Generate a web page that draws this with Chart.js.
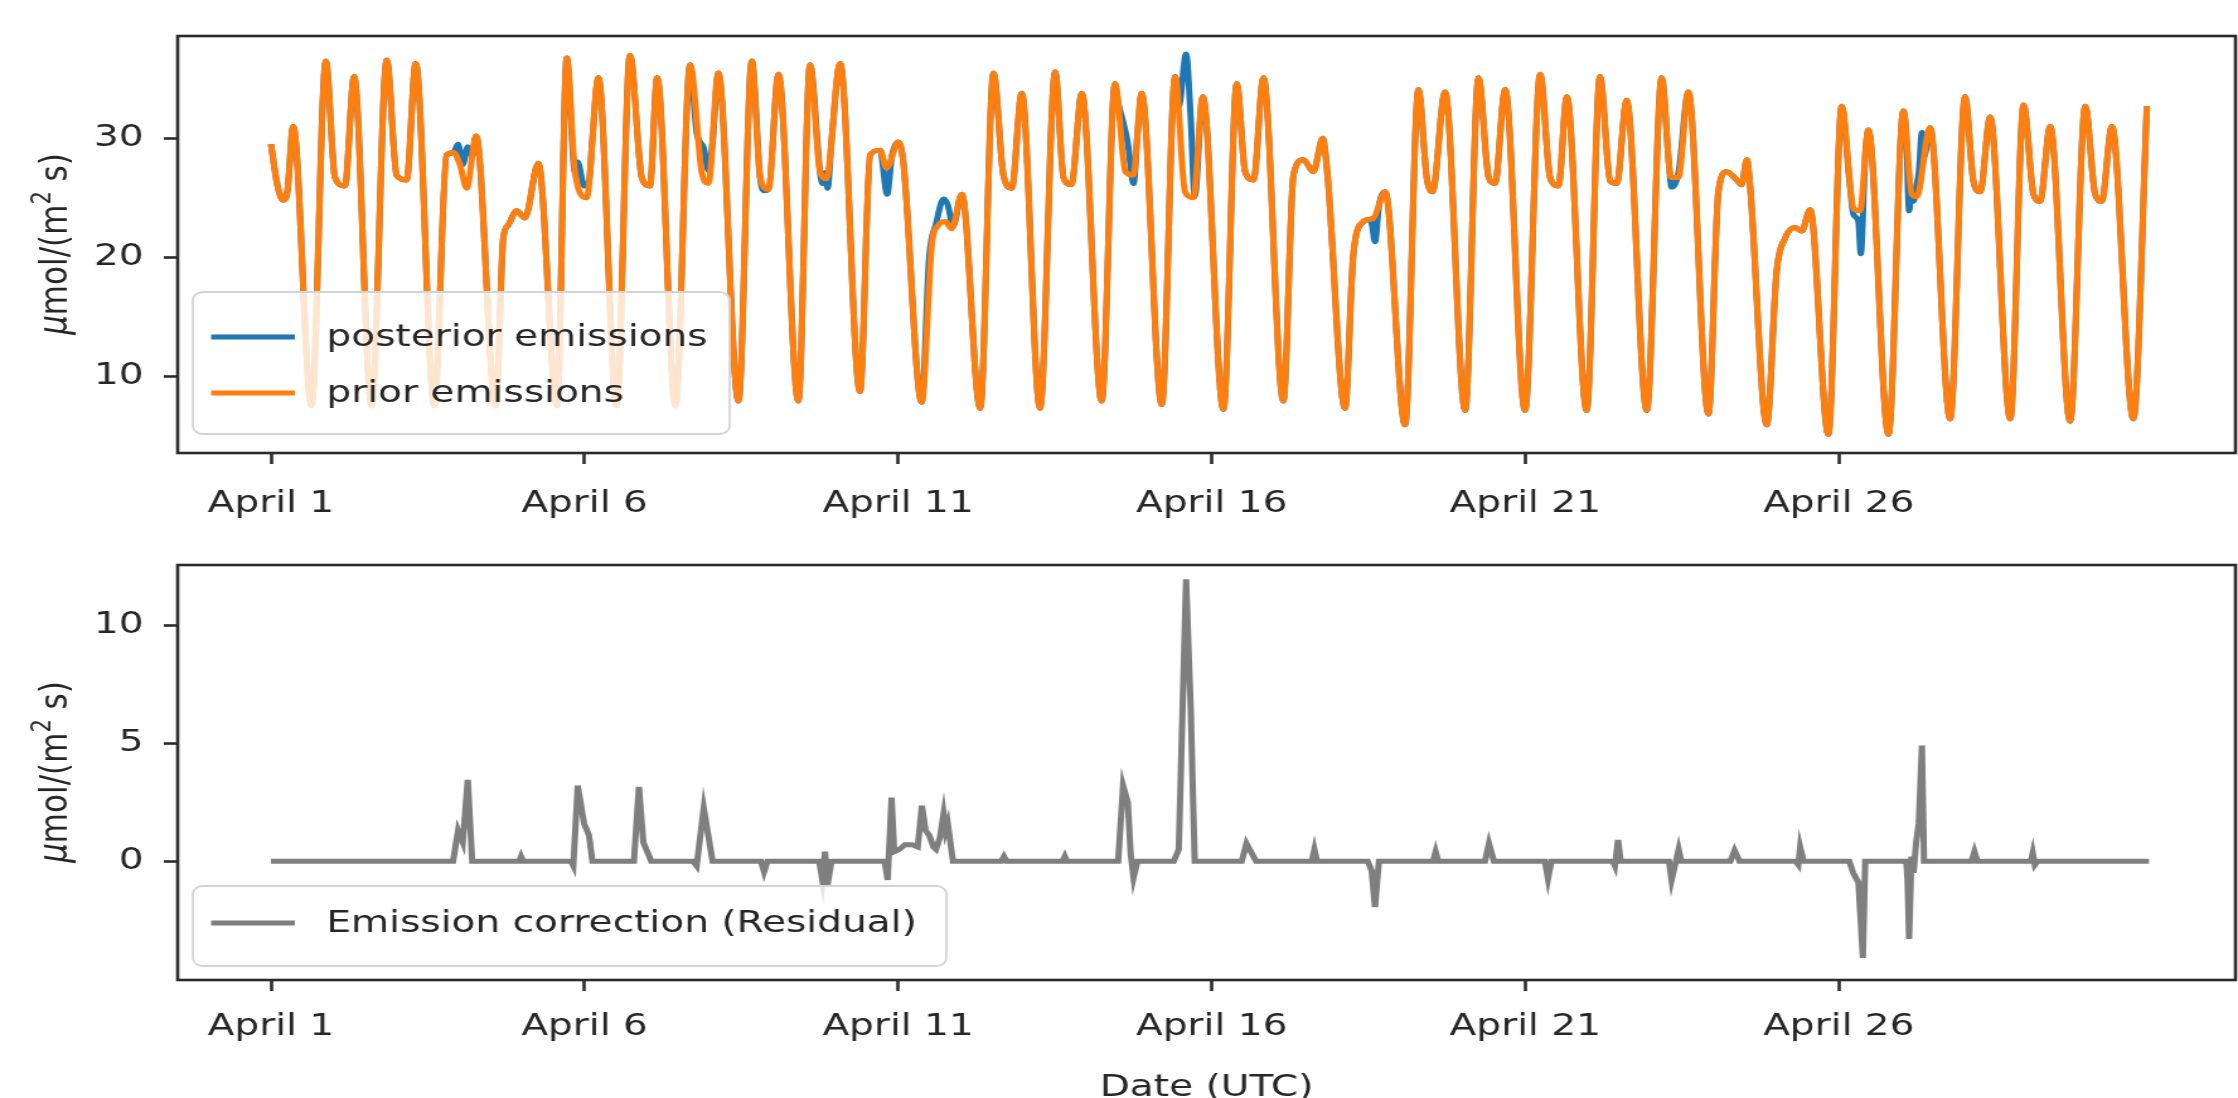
<!DOCTYPE html>
<html>
<head>
<meta charset="utf-8">
<script src="https://cdn.jsdelivr.net/npm/chart.js@4/dist/chart.umd.min.js"></script>
<style>
  html, body { margin: 0; padding: 0; background: #ffffff; width: 2238px; height: 1098px; overflow: hidden; }
  canvas { position: absolute; left: 0; }
</style>
</head>
<body>
<!-- each canvas is drawn 1776 px wide and shown 2238 px wide, like the reference's horizontally stretched figure -->
<canvas id="topChart" width="1776" height="540" style="top:0px;width:2238px;height:540px"></canvas>
<canvas id="bottomChart" width="1776" height="570" style="top:540px;width:2238px;height:570px"></canvas>
<script>
// ---------------- data (hours since April 1, 00 UTC) ----------------
const xTickHours = [0, 120, 240, 360, 480, 600];
const xTickLabels = ['April 1', 'April 6', 'April 11', 'April 16', 'April 21', 'April 26'];
const topYTicks = [10, 20, 30];
const bottomYTicks = [0, 5, 10];

const priorHours = [
  0, 2.5, 4.7, 6.3, 8.5, 15.5,
  21.0, 24.5, 28.3, 31.8, 38.5,
  44.3, 48.1, 51.9, 55.4, 62.5,
  67.2, 69.8, 72.3, 74.9, 78.5, 86.0,
  88.9, 90.8, 94.0, 97.2, 102.3, 109.5,
  113.2, 116.3, 120.8, 125.3, 132.3,
  137.4, 141.9, 145.0, 147.8, 154.8,
  160.4, 164.8, 167.4, 171.2, 178.9,
  184.0, 187.2, 190.4, 194.2, 201.8,
  206.3, 210.1, 212.5, 217.8, 225.4,
  229.3, 233.1, 235.6, 240.1, 242.0, 249.0,
  252.9, 255.4, 258.0, 260.5, 264.4, 271.4,
  276.5, 280.3, 283.5, 287.3, 294.3,
  300.1, 303.3, 306.3, 310.3, 317.9,
  323.0, 327.0, 330.0, 333.2, 340.9,
  346.0, 349.8, 353.0, 356.6, 364.5,
  369.6, 372.8, 376.0, 379.8, 387.4,
  391.3, 395.1, 398.9, 402.5, 404.3, 411.0,
  414.2, 418.1, 421.9, 426.4, 434.0,
  439.1, 442.3, 444.5, 449.3, 457.0,
  462.1, 466.0, 468.4, 472.3, 479.9,
  485.7, 489.5, 492.7, 495.9, 503.5,
  508.6, 512.5, 515.0, 518.8, 526.5,
  532.2, 535.8, 538.6, 542.4, 550.1,
  553.9, 557.1, 560.9, 562.8, 564.8, 566.0, 572.4,
  576.2, 579.4, 583.3, 585.8, 589.0, 596.0,
  601.1, 605.6, 608.1, 611.3, 619.0,
  624.7, 627.9, 629.8, 634.9, 642.6,
  648.3, 651.5, 654.1, 657.9, 665.6,
  670.7, 674.5, 677.0, 680.9, 688.5,
  694.3, 698.1, 700.6, 704.5, 712.7,
  717.9
];
const priorValues = [
  29.5, 26.0, 24.8, 25.6, 31.0, 7.5,
  36.5, 26.7, 26.0, 35.2, 7.5,
  36.6, 26.9, 26.5, 36.3, 7.5,
  28.6, 28.8, 27.8, 25.8, 30.2, 7.5,
  21.6, 22.7, 23.9, 23.3, 27.9, 7.5,
  36.75, 27.2, 25.0, 35.1, 7.5,
  37.0, 26.7, 26.0, 35.1, 7.5,
  36.2, 27.2, 26.2, 35.5, 7.9,
  36.5, 26.7, 25.7, 35.4, 7.9,
  36.2, 27.2, 26.6, 36.3, 8.7,
  28.6, 29.0, 27.5, 29.7, 28.0, 7.8,
  21.1, 22.7, 23.0, 22.4, 25.3, 7.3,
  35.5, 26.9, 25.8, 33.8, 7.3,
  35.6, 26.7, 26.1, 33.8, 7.9,
  34.6, 27.2, 26.9, 33.8, 7.6,
  35.2, 25.5, 25.0, 33.5, 7.2,
  34.6, 27.2, 26.5, 35.1, 7.9,
  26.9, 28.2, 27.2, 30.0, 27.0, 7.3,
  20.2, 23.0, 23.3, 25.5, 5.9,
  34.1, 26.7, 25.5, 33.9, 7.1,
  35.1, 26.7, 26.2, 34.1, 7.1,
  35.4, 26.7, 26.0, 33.5, 7.1,
  35.2, 26.4, 26.2, 33.2, 7.1,
  35.1, 26.7, 26.7, 33.9, 6.8,
  25.5, 27.2, 26.5, 26.1, 28.2, 26.1, 5.9,
  18.8, 21.6, 22.5, 22.2, 24.0, 5.1,
  32.7, 24.1, 23.9, 30.7, 5.1,
  32.3, 25.3, 25.1, 30.9, 6.4,
  33.5, 26.4, 25.5, 31.8, 6.4,
  32.8, 25.3, 24.7, 31.0, 6.2,
  32.7, 25.3, 24.7, 31.0, 6.4,
  32.7
];

// posterior: identical to prior except inside these windows, where it takes the values below
const posteriorWindowStart = [69.8, 116.3, 160.4, 187.2, 210.1, 233.1, 249.0, 323.0, 346.0, 418.1, 532.2, 601.1, 624.7];
const posteriorWindowEnd   = [78.5, 125.3, 171.2, 190.4, 217.8, 240.1, 264.4, 333.2, 356.6, 426.4, 542.4, 611.3, 634.9];
const posteriorHours = [
  71.6, 73.4, 75.3, 77.0,
  117.4, 119.8, 121.7, 123.0,
  162.9, 165.6, 167.4, 169.0,
  188.7,
  211.0, 212.0, 213.0, 214.5,
  235.8, 237.6,
  251.9, 254.5, 257.4, 259.0, 261.0,
  324.2, 326.1, 327.9, 330.1, 331.6,
  347.4, 350.2, 352.0, 353.5,
  419.7, 421.2, 422.5, 424.0,
  535.0, 536.0, 538.7,
  604.0, 605.6, 607.5, 608.4, 610.1,
  625.8, 626.9, 627.8, 628.6, 629.6, 630.6, 631.8, 632.6
];
const posteriorValues = [
  29.5, 27.8, 29.3, 28.5,
  28.0, 26.0, 26.4, 29.9,
  30.5, 29.2, 27.3, 29.7,
  25.6,
  26.2, 27.1, 25.8, 29.7,
  25.3, 28.5,
  20.0, 22.8, 24.9, 24.4, 22.6,
  33.0, 31.4, 29.6, 26.2, 30.35,
  32.7, 37.1, 31.6, 25.1,
  23.15, 22.85, 21.3, 24.3,
  27.8, 25.9, 27.2,
  26.6, 23.6, 23.0, 20.3, 28.5,
  30.3, 23.9, 25.5, 24.7, 25.9, 27.1, 30.5, 28.4
];

const residualHours = [
  0,
  69.7, 71.6, 73.4, 75.3, 77.0,
  95.0, 95.7, 96.5,
  114.8, 115.7, 117.4, 119.8, 121.7, 123.0,
  138.9, 140.8, 142.5, 144.4, 145.5,
  161.5, 162.9, 165.6, 169.0,
  187.5, 188.7, 190.0,
  209.8, 211.0, 212.0, 213.0, 214.5,
  234.8, 236.0, 237.5, 238.5, 240.5, 242.6, 245.3, 247.5, 249.1, 250.5, 251.9, 253.5, 254.5, 256.0, 257.4, 258.2, 259.0, 261.0,
  279.5, 280.5, 281.5,
  303.0, 303.8, 304.6,
  324.2, 326.1, 327.9, 329.0, 330.1, 331.6,
  345.5, 347.4, 350.2, 352.0, 353.5,
  371.5, 373.3, 377.0,
  398.3, 399.3, 400.3,
  419.7, 421.2, 422.5, 424.0,
  444.7, 445.7, 446.7,
  464.6, 466.1, 468.0,
  487.5, 488.7, 490.0,
  513.5, 514.3, 515.5, 516.5,
  535.0, 536.0, 538.7, 539.7,
  558.5, 560.1, 562.0,
  583.5, 584.5, 585.2, 586.5,
  604.0, 605.5, 607.5, 609.2, 610.1,
  625.8, 626.3, 626.9, 627.8, 628.6, 629.6, 630.6, 631.8, 632.6,
  650.8, 651.9, 653.0,
  673.5, 674.2, 675.0, 676.0,
  718.7
];
const residualValues = [
  0,
  0, 1.3, 0.8, 3.45, 0,
  0, 0.2, 0,
  0, -0.2, 3.2, 1.6, 1.1, 0,
  0, 3.15, 0.8, 0.3, 0,
  0, -0.2, 2.25, 0,
  0, -0.45, 0,
  0, -0.8, 0.4, -1.0, 0,
  0, -0.8, 2.7, 0.4, 0.5, 0.7, 0.7, 0.6, 2.35, 1.3, 1.1, 0.6, 0.5, 1.0, 2.0, 1.3, 1.6, 0,
  0, 0.2, 0,
  0, 0.2, 0,
  0, 3.2, 2.5, 0.3, -0.7, 0,
  0, 0.5, 11.95, 6.4, 0,
  0, 0.75, 0,
  0, 0.5, 0,
  0, -0.4, -1.95, 0,
  0, 0.4, 0,
  0, 0.75, 0,
  0, -0.75, 0,
  0, -0.2, 0.9, 0,
  0, -0.8, 0.5, 0,
  0, 0.45, 0,
  0, -0.15, 0.6, 0,
  0, -0.5, -0.9, -4.1, 0,
  0, -0.8, -3.3, 0.2, -0.5, 0.8, 1.6, 4.9, 0,
  0, 0.4, 0,
  0, 0.35, -0.15, 0,
  0
];

// ---------------- build tables ----------------
const priorData = priorHours.map((h, i) => ({ x: h, y: priorValues[i] }));
const insideWindow = h => posteriorWindowStart.some((s, k) => h > s && h < posteriorWindowEnd[k]);
const posteriorData = priorData.filter(p => !insideWindow(p.x))
  .concat(posteriorHours.map((h, i) => ({ x: h, y: posteriorValues[i] })))
  .sort((a, b) => a.x - b.x);
const residualData = residualHours.map((h, i) => ({ x: h, y: residualValues[i] }));

// ---------------- styling ----------------
const FONT = 'DejaVu Sans';
const TXT = '#262626';
const SPINE = '#2b2b2b';
const LW = 5;

function roundRectPath(ctx, x, y, w, h, r) {
  ctx.beginPath();
  ctx.moveTo(x + r, y);
  ctx.arcTo(x + w, y, x + w, y + h, r);
  ctx.arcTo(x + w, y + h, x, y + h, r);
  ctx.arcTo(x, y + h, x, y, r);
  ctx.arcTo(x, y, x + w, y, r);
  ctx.closePath();
}

const decorPlugin = {
  id: 'decor',
  afterDatasetsDraw(chart, args, opts) {
    const ctx = chart.ctx, a = chart.chartArea;
    ctx.save();
    // frame (spines)
    ctx.strokeStyle = SPINE; ctx.lineWidth = 2.6;
    ctx.strokeRect(a.left, a.top, a.right - a.left, a.bottom - a.top);
    // legend
    const b = opts.box;
    roundRectPath(ctx, b[0], b[1], b[2] - b[0], b[3] - b[1], 8);
    ctx.fillStyle = 'rgba(255,255,255,0.8)'; ctx.fill();
    ctx.strokeStyle = '#d4d4d4'; ctx.lineWidth = 1.8; ctx.stroke();
    opts.items.forEach((di, k) => {
      const ds = chart.data.datasets[di];
      const y = opts.rowY[k];
      ctx.beginPath(); ctx.moveTo(opts.lineX[0], y); ctx.lineTo(opts.lineX[1], y);
      ctx.strokeStyle = ds.borderColor; ctx.lineWidth = LW; ctx.lineCap = 'butt'; ctx.stroke();
      ctx.fillStyle = TXT; ctx.font = '31px "' + FONT + '"';
      ctx.textBaseline = 'middle'; ctx.textAlign = 'left';
      ctx.fillText(ds.label, opts.textX, y + 1);
    });
    // rotated y-axis title  µmol/(m² s)
    ctx.translate(opts.yTitle[0], opts.yTitle[1]);
    ctx.rotate(-Math.PI / 2);
    ctx.fillStyle = TXT; ctx.textBaseline = 'alphabetic'; ctx.textAlign = 'left';
    const parts = [
      ['μ', 'italic 31px "' + FONT + '"', 0],
      ['mol/(m', '31px "' + FONT + '"', 0],
      ['2', '21px "' + FONT + '"', -13],
      [' s)', '31px "' + FONT + '"', 0]
    ];
    let total = 0;
    parts.forEach(p => { ctx.font = p[1]; total += ctx.measureText(p[0]).width; });
    let x = -total / 2;
    parts.forEach(p => { ctx.font = p[1]; ctx.fillText(p[0], x, 11 + p[2]); x += ctx.measureText(p[0]).width; });
    ctx.restore();
  }
};

function xScale(height, labelPad, withTitle) {
  return {
    type: 'linear', min: -35.7, max: 751.8,
    afterBuildTicks: s => { s.ticks = xTickHours.map(v => ({ value: v })); },
    afterFit: s => { s.height = height; s.paddingLeft = 0; s.paddingRight = 0; },
    ticks: {
      callback: (v, i) => xTickLabels[i],
      font: { family: FONT, size: 31 }, color: TXT, padding: labelPad,
      maxRotation: 0, minRotation: 0, autoSkip: false
    },
    grid: { display: true, drawOnChartArea: false, drawTicks: true, tickLength: 11, tickWidth: 2.6, tickColor: SPINE },
    border: { display: false },
    title: withTitle
      ? { display: true, text: 'Date (UTC)', font: { family: FONT, size: 31 }, color: TXT, padding: { top: 0, bottom: 3 } }
      : { display: false }
  };
}
function yScale(min, max, ticksArr) {
  return {
    type: 'linear', min: min, max: max,
    afterBuildTicks: s => { s.ticks = ticksArr.map(v => ({ value: v })); },
    afterFit: s => { s.width = 141; s.paddingTop = 0; s.paddingBottom = 0; },
    ticks: { font: { family: FONT, size: 31 }, color: TXT, padding: 16, callback: v => String(v) },
    grid: { display: true, drawOnChartArea: false, drawTicks: true, tickLength: 11, tickWidth: 2.6, tickColor: SPINE },
    border: { display: false }
  };
}

const common = {
  responsive: false, maintainAspectRatio: false, animation: false, devicePixelRatio: 1,
  events: [],
  elements: { point: { radius: 0 } }
};

new Chart(document.getElementById('topChart'), {
  type: 'line',
  data: {
    datasets: [
      { label: 'posterior emissions', data: posteriorData, borderColor: '#1f77b4', borderWidth: LW,
        cubicInterpolationMode: 'monotone', order: 1, pointRadius: 0, fill: false },
      { label: 'prior emissions', data: priorData, borderColor: '#ff7f0e', borderWidth: LW,
        cubicInterpolationMode: 'monotone', order: 0, pointRadius: 0, fill: false }
    ]
  },
  options: Object.assign({}, common, {
    layout: { padding: { top: 36, right: 2, left: 0, bottom: 0 } },
    scales: { x: xScale(87, 21, false), y: yScale(3.53, 38.61, topYTicks) },
    plugins: {
      legend: { display: false }, tooltip: { enabled: false },
      decor: { box: [153, 292, 579, 434], items: [0, 1], rowY: [337, 393], lineX: [167.5, 234], textX: 259, yTitle: [42, 244] }
    }
  }),
  plugins: [decorPlugin]
});

new Chart(document.getElementById('bottomChart'), {
  type: 'line',
  data: {
    datasets: [
      { label: 'Emission correction (Residual)', data: residualData, borderColor: '#7f7f7f', borderWidth: LW,
        tension: 0, pointRadius: 0, fill: false }
    ]
  },
  options: Object.assign({}, common, {
    layout: { padding: { top: 25, right: 2, left: 0, bottom: 0 } },
    scales: { x: xScale(130, 17, true), y: yScale(-5.04, 12.56, bottomYTicks) },
    plugins: {
      legend: { display: false }, tooltip: { enabled: false },
      decor: { box: [153, 346, 751, 426], items: [0], rowY: [383], lineX: [167.5, 234], textX: 259, yTitle: [42, 232] }
    }
  }),
  plugins: [decorPlugin]
});
</script>
</body>
</html>
